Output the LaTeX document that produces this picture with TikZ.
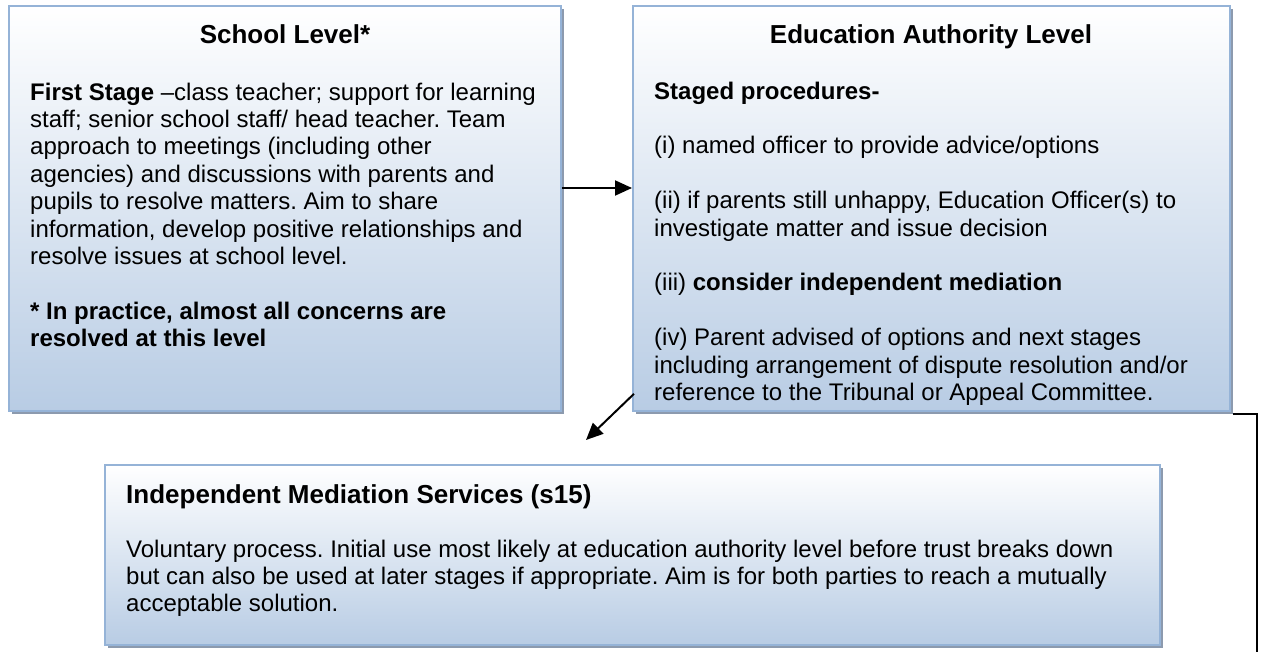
\documentclass[tikz,border=0pt]{standalone}
\usepackage{fontspec}
\setmainfont{Liberation Sans}
\frenchspacing
\usetikzlibrary{arrows.meta,calc,shadows}
\definecolor{boxborder}{RGB}{149,179,215}
\definecolor{boxbottom}{RGB}{184,204,228}
\definecolor{boxshadow}{RGB}{140,154,174}
\tikzset{
  panel/.style={draw=boxborder, line width=1.8pt, top color=white, bottom color=boxbottom,
    anchor=north west, inner sep=0pt,
    drop shadow={shadow xshift=3pt, shadow yshift=-3pt, fill=boxshadow, opacity=1}},
  titletext/.style={font=\fontsize{26}{30}\selectfont\bfseries, inner sep=0pt, anchor=base},
  bodytext/.style={font=\fontsize{24}{27.4}\selectfont, align=left, inner sep=0pt, anchor=base west},
  conn/.style={line width=2pt, -{Triangle[length=17pt,width=15pt]}},
  plainline/.style={line width=1.6pt},
}
\begin{document}
\begin{tikzpicture}[x=1pt,y=-1pt]
\useasboundingbox (0,0) rectangle (1273,652);
% boxes
\node[panel, minimum width=552pt, minimum height=405pt] (school) at (8,5) {};
\node[panel, minimum width=597pt, minimum height=405pt] (authority) at (632,5) {};
\node[panel, minimum width=1055pt, minimum height=180pt] (mediation) at (104,464) {};
% box 1 text (anchored at the baseline of its last line)
\node[titletext] (schooltitle) at (285,44) {School Level*};
\node[bodytext] (schoolbody) at (30,346.6) {\textbf{First Stage} –class teacher; support for learning\\
staff; senior school staff/ head teacher. Team\\
approach to meetings (including other\\
agencies) and discussions with parents and\\
pupils to resolve matters. Aim to share\\
information, develop positive relationships and\\
resolve issues at school level.\\[27.4pt]
\textbf{* In practice, almost all concerns are}\\
\textbf{resolved at this level}};
% box 2 text
\node[titletext] (authoritytitle) at (931,44) {Education Authority Level};
\node[bodytext] (authoritybody) at (654,400.4) {\textbf{Staged procedures-}\\[27.4pt]
(i) named officer to provide advice/options\\[27.4pt]
(ii) if parents still unhappy, Education Officer(s) to\\
investigate matter and issue decision\\[27.4pt]
(iii) \textbf{consider independent mediation}\\[27.4pt]
(iv) Parent advised of options and next stages\\
including arrangement of dispute resolution and/or\\
reference to the Tribunal or Appeal Committee.};
% box 3 text
\node[titletext, anchor=base west] (mediationtitle) at (126,503) {Independent Mediation Services (s15)};
\node[bodytext] (mediationbody) at (126,611.8) {Voluntary process. Initial use most likely at education authority level before trust breaks down\\
but can also be used at later stages if appropriate. Aim is for both parties to reach a mutually\\
acceptable solution.};
% connectors
\draw[conn] (school.east |- 0,188) -- (authority.west |- 0,188);
\coordinate (medtarget) at (586,440);
\draw[conn] ($(authority.south west)+(2,-18)$) -- (medtarget);
\coordinate (rightend) at (1257,653);
\draw[plainline] ($(authority.south east)+(2,2)$) -| (rightend);
\end{tikzpicture}
\end{document}
